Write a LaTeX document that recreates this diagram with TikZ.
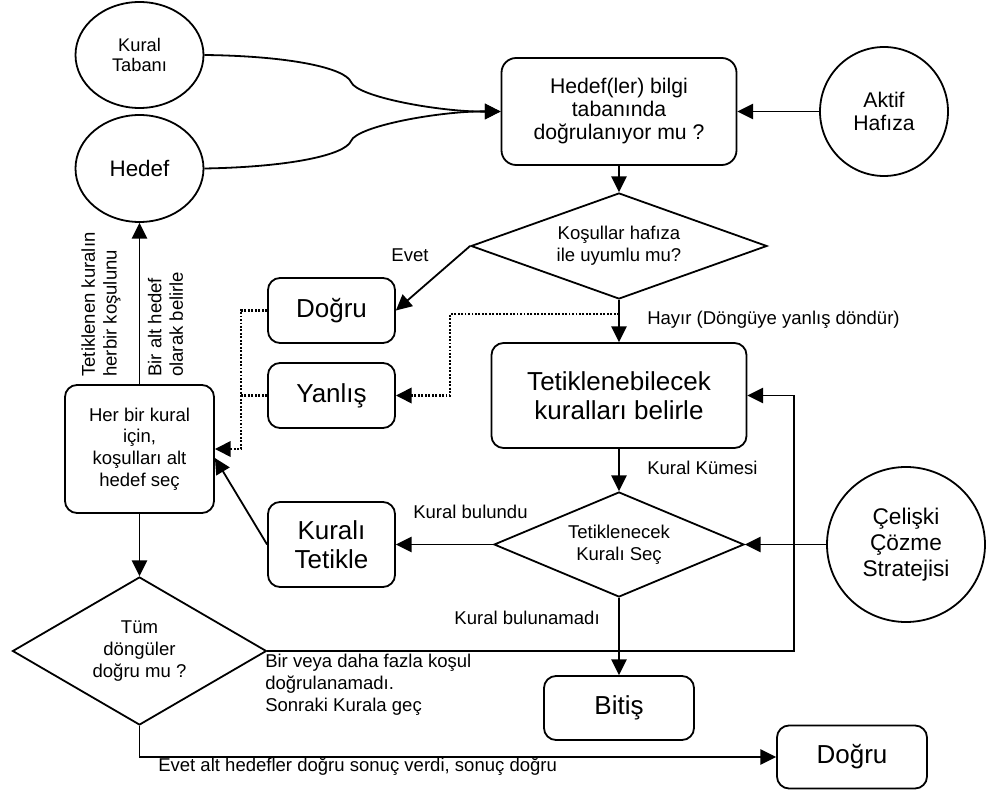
\documentclass[tikz,border=0pt]{standalone}
\usepackage{fontspec}
\setmainfont{Liberation Sans}
\usetikzlibrary{shapes.geometric,arrows.meta,calc}
\begin{document}
\begin{tikzpicture}[x=0.75pt,y=-0.75pt,
  lw/.style={line width=1.35pt},
  box/.style={draw,lw,rounded corners=9pt,align=center,inner sep=0pt},
  bigtxt/.style={font=\fontsize{19.5}{21.75}\selectfont},
  smalltxt/.style={font=\fontsize{13.9}{16.3}\selectfont},
  dia/.style={draw,lw,diamond,align=center,inner sep=0pt},
  circ/.style={draw,lw,ellipse,align=center,inner sep=0pt},
  tip/.style={-{Triangle[length=11.8pt,width=11.5pt]}},
  arr/.style={lw,tip},
  dotl/.style={line width=1.9pt,dash pattern=on 1.4pt off 1.2pt,tip},
  lbl/.style={smalltxt,inner sep=0pt}
]
\useasboundingbox (0,0) rectangle (986,791);

% nodes
\node[circ,minimum width=96pt,minimum height=79.5pt,font=\fontsize{13.7}{15.5}\selectfont] (kt) at (139.5,55) {Kural\\Tabanı};
\node[circ,minimum width=96pt,minimum height=80.25pt,font=\fontsize{16.8}{19}\selectfont] (hd) at (139.5,168.5) {Hedef};
\node[box,minimum width=176.25pt,minimum height=80.25pt,rounded corners=11pt,font=\fontsize{15.9}{17.25}\selectfont] (top) at (619,111.5) {Hedef(ler) bilgi\\tabanında\\doğrulanıyor mu ?};
\node[circ,minimum width=96pt,minimum height=96.75pt,font=\fontsize{15.9}{17.25}\selectfont] (ah) at (884,111.5) {Aktif\\Hafıza};
\node[dia,aspect=2.8,minimum width=222pt,minimum height=79.5pt,smalltxt] (d1) at (619,246) {Koşullar hafıza\\ile uyumlu mu?};
\node[box,bigtxt,minimum width=95.25pt,minimum height=48.75pt] (dg1) at (331.5,310.5) {Doğru};
\node[box,bigtxt,minimum width=95.25pt,minimum height=48.75pt] (yn) at (331.5,395.5) {Yanlış};
\node[box,smalltxt,minimum width=111.75pt,minimum height=96pt] (hb) at (139.5,449) {Her bir kural\\için,\\koşulları alt\\hedef seç};
\node[box,bigtxt,minimum width=95.25pt,minimum height=63.75pt] (ktt) at (331.5,544.5) {Kuralı\\Tetikle};
\node[box,bigtxt,minimum width=191.25pt,minimum height=78.75pt] (tb) at (619,395.5) {Tetiklenebilecek\\kuralları belirle};
\node[dia,aspect=2.4,smalltxt,minimum width=187.5pt,minimum height=78.75pt] (d2) at (619,544.5) {Tetiklenecek\\Kuralı Seç};
\node[circ,minimum width=118.5pt,minimum height=116.25pt,font=\fontsize{17}{19.3}\selectfont] (cc) at (906,544.5) {Çelişki\\Çözme\\Stratejisi};
\node[box,bigtxt,minimum width=112.5pt,minimum height=48pt] (bt) at (619,708) {Bitiş};
\node[dia,aspect=1.7,smalltxt,minimum width=190.5pt,minimum height=111pt] (d3) at (139.5,651) {Tüm\\döngüler\\doğru mu ?};
\node[box,bigtxt,minimum width=112.5pt,minimum height=47.25pt] (dg2) at (852,757) {Doğru};

% curved inputs
\draw[arr] (kt.east) .. controls (290,56) and (345,68) .. (351,82) .. controls (357,97) and (440,112) .. (top.west);
\draw[arr] (hd.east) .. controls (290,167) and (345,155) .. (351,141) .. controls (357,126) and (440,111) .. (top.west);

% main flow
\draw[arr] (ah.west) -- (top.east);
\draw[arr] (top.south) -- (d1.north);
\draw[arr] (d1.west) -- (dg1.east);
\node[lbl] (evet) at (410,255) {Evet};
\draw[arr] (d1.south) -- (tb.north);
\node[lbl,anchor=west] (hayir) at (647,320) {Hayır (Döngüye yanlış döndür)};

% dotted returns
\coordinate (j1) at (619,314);
\coordinate (j2) at (450,314);
\draw[dotl] (j1) -- (j2) -- (j2 |- yn.east) -- (yn.east);
\coordinate (j3) at (241,310.5);
\coordinate (j4) at (241,449);
\draw[dotl] (dg1.west) -- (j3) -- (j4) -- (hb.east);
\draw[dotl,-] (yn.west) -- (j3 |- yn.west);

\draw[arr] (ktt.west) -- ($(hb.east)+(0,9)$);
\draw[arr] (d2.west) -- (ktt.east);
\node[lbl,anchor=west] (kb) at (413,512) {Kural bulundu};
\draw[arr] (tb.south) -- (d2.north);
\node[lbl,anchor=west] (kk) at (647,468) {Kural Kümesi};
\draw[arr] (cc.west) -- (d2.east);
\draw[arr] (d2.south) -- (bt.north);
\node[lbl,anchor=east] (kbn) at (600,618) {Kural bulunamadı};

\coordinate (lp) at (794,651);
\draw[arr] (d3.east) -- (lp) |- (tb.east);
\node[lbl,anchor=north west,align=left] (byd) at (265,654) {Bir veya daha fazla koşul\\doğrulanamadı.\\Sonraki Kurala geç};

\draw[arr] (hb.south) -- (d3.north);
\draw[arr] (hb.north) -- (hd.south);
\node[lbl,rotate=90,anchor=west,align=left] (tk) at (101,377) {Tetiklenen kuralın\\herbir koşulunu};
\node[lbl,rotate=90,anchor=west,align=left] (ba) at (165.5,377) {Bir alt hedef\\olarak belirle};

\coordinate (lb) at (139.5,757);
\draw[arr] (d3.south) -- (lb) -- (dg2.west);
\node[lbl,anchor=west] (ea) at (158,767) {Evet alt hedefler doğru sonuç verdi, sonuç doğru};
\end{tikzpicture}
\end{document}
